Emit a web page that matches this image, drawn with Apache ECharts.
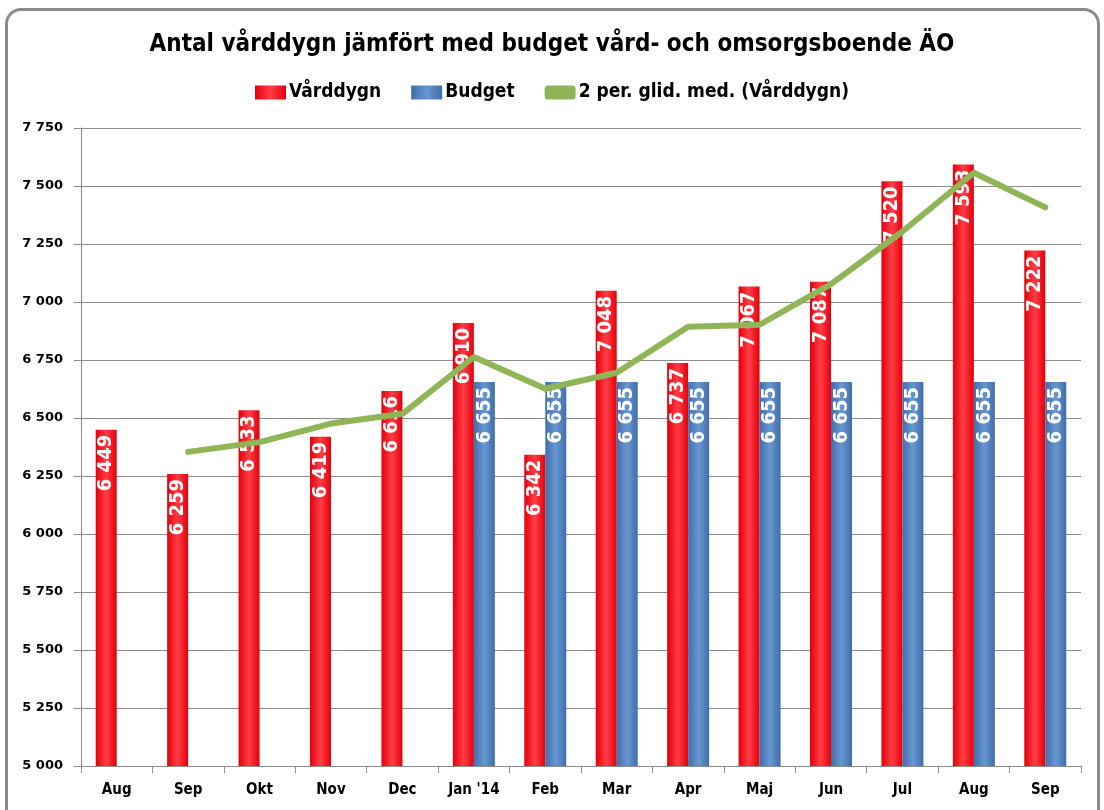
<!DOCTYPE html>
<html>
<head>
<meta charset="utf-8">
<script src="https://cdn.jsdelivr.net/npm/echarts@6/dist/echarts.min.js"></script>
<style>
  html, body { margin: 0; padding: 0; background: #fff; }
  #frame {
    position: absolute; left: 5px; top: 8px; width: 1095px; height: 830px;
    border: 3px solid #8a8a8a; border-radius: 16px; box-sizing: border-box;
  }
  #chart { position: absolute; left: 0; top: 0; width: 1104px; height: 810px; }
</style>
</head>
<body>
<div id="frame"></div>
<div id="chart"></div>
<script>
// kategorier och värden
const months = ['Aug', 'Sep', 'Okt', 'Nov', 'Dec', "Jan '14", 'Feb', 'Mar', 'Apr', 'Maj', 'Jun', 'Jul', 'Aug', 'Sep']
const varddygn = [6449, 6259, 6533, 6419, 6616, 6910, 6342, 7048, 6737, 7067, 7087, 7520, 7593, 7222]
const budget = [null, null, null, null, null, 6655, 6655, 6655, 6655, 6655, 6655, 6655, 6655, 6655]
const glidMed = [null, 6354, 6396, 6476, 6518, 6763, 6626, 6695, 6893, 6902, 7077, 7304, 7557, 7408]

const narrow = "'Liberation Sans Narrow', 'DejaVu Sans Condensed', sans-serif"
const fmt = v => String(v).replace(/\B(?=(\d{3})+(?!\d))/g, ' ')

const redFill = new echarts.graphic.LinearGradient(0, 0, 1, 0, [
  { offset: 0, color: '#e3000b' },
  { offset: 0.5, color: '#ff3d46' },
  { offset: 1, color: '#e3000b' }
])
const blueFill = new echarts.graphic.LinearGradient(0, 0, 1, 0, [
  { offset: 0, color: '#3f6eac' },
  { offset: 0.5, color: '#6796d0' },
  { offset: 1, color: '#3f6eac' }
])

const barLabel = {
  show: true,
  position: 'insideTop',
  rotate: 90,
  align: 'right',
  verticalAlign: 'middle',
  distance: 5,
  color: '#fff',
  fontFamily: narrow,
  fontWeight: 'bold',
  fontSize: 20,
  formatter: p => fmt(p.value)
}

const options = {
  animation: false,
  title: {
    text: 'Antal vårddygn jämfört med budget vård- och omsorgsboende ÄO',
    left: 'center',
    top: 28,
    textStyle: { fontFamily: narrow, fontWeight: 'bold', fontSize: 24, color: '#000' }
  },
  legend: {
    top: 78,
    left: 'center',
    itemGap: 30,
    itemWidth: 31,
    itemHeight: 14,
    textStyle: { fontFamily: narrow, fontWeight: 'bold', fontSize: 19, color: '#000', padding: [0, 0, 0, -2] },
    data: [
      { name: 'Vårddygn', icon: 'rect' },
      { name: 'Budget', icon: 'rect' },
      { name: '2 per. glid. med. (Vårddygn)', icon: 'roundRect' }
    ]
  },
  grid: { left: 81, right: 23, top: 128, bottom: 44 },
  xAxis: {
    type: 'category',
    data: months,
    axisLine: { lineStyle: { color: '#8c8c8c' } },
    axisTick: { show: true, interval: 0, length: 7, lineStyle: { color: '#8c8c8c' } },
    axisLabel: { interval: 0, margin: 17, color: '#000', fontFamily: narrow, fontWeight: 'bold', fontSize: 15 }
  },
  yAxis: {
    type: 'value',
    min: 5000,
    max: 7750,
    interval: 250,
    axisLine: { show: true, lineStyle: { color: '#8c8c8c' } },
    axisTick: { show: true, length: 7, lineStyle: { color: '#8c8c8c' } },
    splitLine: { lineStyle: { color: '#8c8c8c' } },
    axisLabel: { margin: 18, color: '#000', fontFamily: 'DejaVu Sans', fontWeight: 'bold', fontSize: 13, formatter: fmt }
  },
  series: [
    {
      name: 'Vårddygn',
      type: 'bar',
      data: varddygn,
      barWidth: 21,
      barGap: '0%',
      itemStyle: { color: redFill },
      label: barLabel
    },
    {
      name: 'Budget',
      type: 'bar',
      data: budget,
      barWidth: 21,
      itemStyle: { color: blueFill },
      label: barLabel
    },
    {
      name: '2 per. glid. med. (Vårddygn)',
      type: 'line',
      data: glidMed,
      showSymbol: false,
      symbol: 'none',
      itemStyle: { color: '#8fb556' },
      lineStyle: { width: 6, color: '#8fb556', cap: 'round' },
      z: 5
    }
  ]
}

const chart = echarts.init(document.getElementById('chart'))
chart.setOption(options)
</script>
</body>
</html>
